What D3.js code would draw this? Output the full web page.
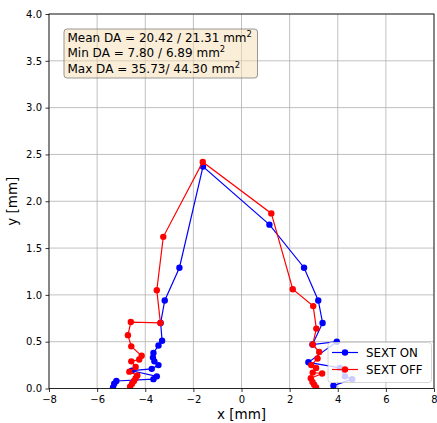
<!DOCTYPE html>
<html><head><meta charset="utf-8">
<script src="https://cdnjs.cloudflare.com/ajax/libs/d3/7.8.5/d3.min.js"></script>
<style>body{margin:0;background:#fff;} text{font-family:"DejaVu Sans",sans-serif;}</style>
</head><body>
<svg id="c" width="437" height="423"></svg>
<script>
// SEXT ON (blue) contour points, left bottom -> top -> right bottom
const onX = [-5.34,-5.29,-5.20,-3.66,-3.52,-4.56,-3.73,-3.45,-3.62,-3.68,-3.66,-3.45,-3.30,-3.36,-3.19,-2.58,-1.60,1.16,2.60,3.19,3.37,2.95,3.96,2.78,4.09,4.30,4.60,3.82];
const onY = [0.01,0.05,0.08,0.10,0.13,0.19,0.21,0.25,0.29,0.33,0.38,0.46,0.51,0.70,0.94,1.29,2.37,1.75,1.29,0.94,0.70,0.47,0.50,0.28,0.22,0.13,0.10,0.03];
// SEXT OFF (red)
const offX = [-4.63,-4.55,-4.47,-4.40,-4.33,-4.66,-4.40,-4.58,-4.25,-4.15,-4.58,-4.72,-4.60,-3.37,-3.52,-3.25,-1.61,1.24,2.13,2.98,3.11,2.96,3.23,3.16,2.90,3.10,2.96,3.35,2.88,2.95,3.02,3.10];
const offY = [0.02,0.05,0.08,0.11,0.14,0.18,0.23,0.29,0.31,0.35,0.45,0.57,0.71,0.70,1.05,1.62,2.42,1.87,1.06,0.88,0.64,0.47,0.39,0.32,0.25,0.22,0.17,0.16,0.11,0.07,0.04,0.01];
const xTicks = [-8,-6,-4,-2,0,2,4,6,8];
const yTicks = [0.0,0.5,1.0,1.5,2.0,2.5,3.0,3.5,4.0];
const seriesNames = ["SEXT ON","SEXT OFF"];
const seriesColors = ["#0000ff","#ff0000"];
const boxLines = [["Mean DA = 20.42 / 21.31 mm","2"],["Min DA = 7.80 / 6.89 mm","2"],["Max DA = 35.73/ 44.30 mm","2"]];

const svg = d3.select("#c");
const L=49,R=434,T=14,B=388.5;
const x = d3.scaleLinear().domain([-8,8]).range([L,R]);
const y = d3.scaleLinear().domain([0,4]).range([B,T]);

// grid
const g = svg.append("g");
g.selectAll(".gx").data(xTicks).enter().append("line")
 .attr("x1",d=>x(d)).attr("x2",d=>x(d)).attr("y1",T).attr("y2",B)
 .attr("stroke","#b0b0b0").attr("stroke-width",0.8);
g.selectAll(".gy").data(yTicks).enter().append("line")
 .attr("y1",d=>y(d)).attr("y2",d=>y(d)).attr("x1",L).attr("x2",R)
 .attr("stroke","#b0b0b0").attr("stroke-width",0.8);

// axes
const fmtX = d=>(d<0?"\u2212":"")+Math.abs(d);
const xa = svg.append("g").attr("transform",`translate(0,${B})`)
 .call(d3.axisBottom(x).tickValues(xTicks).tickFormat(fmtX).tickSize(3.5).tickPadding(3.5));
const ya = svg.append("g").attr("transform",`translate(${L},0)`)
 .call(d3.axisLeft(y).tickValues(yTicks).tickFormat(d3.format(".1f")).tickSize(3.5).tickPadding(3.5));
[xa,ya].forEach(a=>{a.select(".domain").remove();
 a.selectAll("text").attr("font-size",10).attr("fill","#000").style("font-family","DejaVu Sans");
 a.selectAll("line").attr("stroke","#000").attr("stroke-width",0.8);});

// data
const onData = onX.map((v,i)=>[v,onY[i]]);
const offData = offX.map((v,i)=>[v,offY[i]]);
const line = d3.line().x(d=>x(d[0])).y(d=>y(d[1]));
const clip = svg.append("clipPath").attr("id","cp").append("rect").attr("x",L).attr("y",T).attr("width",R-L).attr("height",B-T);
[onData,offData].forEach((data,i)=>{
  const s = svg.append("g").attr("clip-path","url(#cp)");
  s.append("path").attr("d",line(data)).attr("fill","none").attr("stroke",seriesColors[i]).attr("stroke-width",1.2);
  s.selectAll("circle").data(data).enter().append("circle")
   .attr("cx",d=>x(d[0])).attr("cy",d=>y(d[1])).attr("r",3.2).attr("fill",seriesColors[i]);
});

// frame
svg.append("rect").attr("x",L).attr("y",T).attr("width",R-L).attr("height",B-T)
 .attr("fill","none").attr("stroke","#000").attr("stroke-width",0.8);

// labels
svg.append("text").attr("x",(L+R)/2).attr("y",419).attr("text-anchor","middle").attr("font-size",13.5).text("x [mm]");
svg.append("text").attr("transform",`translate(17,${(T+B)/2}) rotate(-90)`).attr("text-anchor","middle").attr("font-size",13.5).text("y [mm]");

// text box
svg.append("rect").attr("x",64).attr("y",29).attr("width",193.5).attr("height",49).attr("rx",3)
 .attr("fill","#f5deb3").attr("fill-opacity",0.5).attr("stroke","#808080").attr("stroke-opacity",0.8).attr("stroke-width",1);
boxLines.forEach((l,i)=>{
  const t = svg.append("text").attr("x",67.5).attr("y",41.5+i*15.8).attr("font-size",12).attr("fill","#000");
  t.append("tspan").text(l[0]);
  t.append("tspan").attr("font-size",8.4).attr("dy",-5).text(l[1]);
});

// legend
const lg = svg.append("g");
lg.append("rect").attr("x",328).attr("y",342.5).attr("width",103.5).attr("height",40).attr("rx",3)
 .attr("fill","#fff").attr("fill-opacity",0.8).attr("stroke","#cccccc").attr("stroke-width",0.8);
seriesNames.forEach((n,i)=>{
  const yy = 352.5+i*17;
  lg.append("line").attr("x1",332).attr("x2",358).attr("y1",yy).attr("y2",yy).attr("stroke",seriesColors[i]).attr("stroke-width",1.2);
  lg.append("circle").attr("cx",345).attr("cy",yy).attr("r",3.2).attr("fill",seriesColors[i]);
  lg.append("text").attr("x",366).attr("y",yy+4.3).attr("font-size",11.8).text(n);
});
</script>
</body></html>
